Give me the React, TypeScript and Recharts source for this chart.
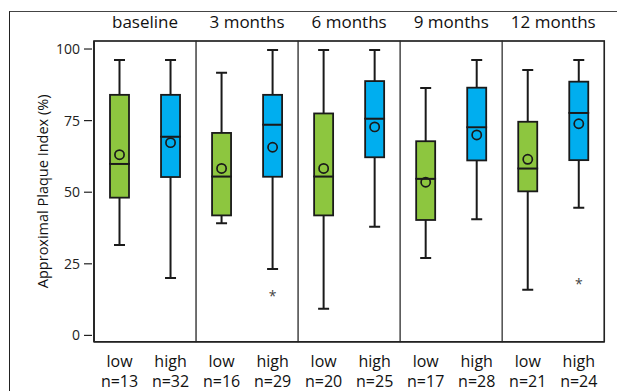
import React from 'react';
import { ComposedChart, Bar, Line, XAxis, YAxis, ReferenceArea } from 'recharts';

const periods = ['baseline', '3 months', '6 months', '9 months', '12 months'];
const groups = ['low', 'high', 'low', 'high', 'low', 'high', 'low', 'high', 'low', 'high'];
const nLabels = ['n=13', 'n=32', 'n=16', 'n=29', 'n=20', 'n=25', 'n=17', 'n=28', 'n=21', 'n=24'];
const whiskerLow = [31.6, 20.0, 39.2, 23.2, 9.3, 37.9, 27.0, 40.6, 15.9, 44.6];
const q1 = [48.1, 55.3, 41.9, 55.4, 41.9, 62.2, 40.3, 61.1, 50.3, 61.2];
const median = [59.9, 69.4, 55.5, 73.6, 55.5, 75.7, 54.7, 72.7, 58.3, 77.7];
const q3 = [84.0, 84.0, 70.7, 84.0, 77.5, 88.8, 67.8, 86.5, 74.6, 88.6];
const whiskerHigh = [96.2, 96.2, 91.7, 99.7, 99.7, 99.7, 86.4, 96.2, 92.7, 96.2];
const means = [63.1, 67.3, 58.3, 65.7, 58.3, 72.8, 53.5, 70.0, 61.5, 73.9];
const outliers: (number | null)[] = [null, null, null, 14.7, null, null, null, null, null, 19.0];
const yTicks = [0, 25, 50, 75, 100];

const GREEN = '#8DC63F';
const BLUE = '#00AEEF';
const FONT = '"Open Sans", sans-serif';
const INK = '#1a1a1a';

const keyFor = (i: number) => `${periods[Math.floor(i / 2)]}-${groups[i]}`;

const data = groups.map((g, i) => ({
  key: keyFor(i),
  group: g,
  n: nLabels[i],
  base: whiskerLow[i],
  lowW: q1[i] - whiskerLow[i],
  lowBox: median[i] - q1[i],
  highBox: q3[i] - median[i],
  highW: whiskerHigh[i] - q3[i],
  mean: means[i],
  outlier: outliers[i],
}));

const fillFor = (g: string) => (g === 'low' ? GREEN : BLUE);

const EmptyShape = () => <g />;

const BoxShape = (p: any) => (
  <rect
    x={p.x}
    y={p.y}
    width={p.width}
    height={p.height}
    fill={fillFor(p.payload.group)}
    stroke={INK}
    strokeWidth={1.8}
  />
);

const LowWhisker = (p: any) => {
  const cx = p.x + p.width / 2;
  const yb = p.y + p.height;
  return (
    <g stroke={INK} strokeWidth={2}>
      <line x1={cx} x2={cx} y1={p.y} y2={yb} />
      <line x1={cx - 5.5} x2={cx + 5.5} y1={yb} y2={yb} />
    </g>
  );
};

const HighWhisker = (p: any) => {
  const cx = p.x + p.width / 2;
  const yb = p.y + p.height;
  return (
    <g stroke={INK} strokeWidth={2}>
      <line x1={cx} x2={cx} y1={p.y} y2={yb} />
      <line x1={cx - 5.5} x2={cx + 5.5} y1={p.y} y2={p.y} />
    </g>
  );
};

const MeanDot = (p: any) => {
  if (p.value == null || p.cy == null) return <g key={`m${p.index}`} />;
  return <circle key={`m${p.index}`} cx={p.cx} cy={p.cy} r={4.6} fill="none" stroke={INK} strokeWidth={1.7} />;
};

const OutlierDot = (p: any) => {
  if (p.value == null || p.cy == null || isNaN(p.cy)) return <g key={`o${p.index}`} />;
  return (
    <text key={`o${p.index}`} x={p.cx} y={p.cy} dy={8} textAnchor="middle" fontFamily={FONT} fontSize={14} fill="#444">
      *
    </text>
  );
};

const YTick = (p: any) => (
  <g>
    <line x1={p.x - 8} x2={p.x} y1={p.y} y2={p.y} stroke="#222" strokeWidth={1.2} />
    <text x={p.x - 12} y={p.y} dy={5} textAnchor="end" fontFamily={FONT} fontSize={14} fill="#222">
      {p.payload.value}
    </text>
  </g>
);

const BottomTick = (p: any) => {
  const row = data[p.index];
  return (
    <g>
      <text x={p.x} y={p.y} dy={25} textAnchor="middle" fontFamily={FONT} fontSize={16} fill="#111">
        {row ? row.group : ''}
      </text>
      <text x={p.x} y={p.y} dy={45} textAnchor="middle" fontFamily={FONT} fontSize={16} fill="#111">
        {row ? row.n : ''}
      </text>
    </g>
  );
};

const makeTitle = (title: string) => (p: any) => {
  const vb = p.viewBox || { x: 0, y: 0, width: 0, height: 0 };
  return (
    <text
      x={vb.x + vb.width / 2}
      y={vb.y - 13}
      textAnchor="middle"
      fontFamily={FONT}
      fontSize={17}
      fill="#111"
    >
      {title}
    </text>
  );
};

const YLabel = (p: any) => {
  const vb = p.viewBox || { x: 0, y: 33, width: 86, height: 300 };
  const cx = vb.x + 35;
  const cy = vb.y + vb.height / 2;
  return (
    <text
      x={cx}
      y={cy}
      transform={`rotate(-90, ${cx}, ${cy})`}
      textAnchor="middle"
      dominantBaseline="central"
      fontFamily={FONT}
      fontSize={14.5}
      fill="#111"
    >
      Approximal Plaque Index (%)
    </text>
  );
};

export default function App() {
  return (
    <div style={{ position: 'relative', width: 617, height: 383 }}>
      <div
        style={{
          position: 'absolute',
          left: 1,
          top: 3,
          width: 616,
          height: 380,
          borderTop: '1.5px solid #444',
          borderLeft: '1.5px solid #222',
          boxSizing: 'border-box',
        }}
      />
      <div style={{ position: 'absolute', left: 0, top: 0 }}>
        <ComposedChart width={617} height={383} data={data} margin={{ top: 33, right: 20.7, bottom: 0, left: 0 }}>
          <XAxis
            xAxisId="cat"
            dataKey="key"
            type="category"
            height={49.3}
            interval={0}
            tickLine={false}
            tickSize={0}
            tickMargin={0}
            axisLine={{ stroke: '#222', strokeWidth: 1.5 }}
            tick={<BottomTick />}
          />
          <YAxis
            type="number"
            width={86}
            domain={[-2.2, 102.8]}
            ticks={yTicks}
            allowDataOverflow
            tickLine={false}
            tickSize={2}
            tickMargin={0}
            axisLine={{ stroke: '#222', strokeWidth: 1.5 }}
            tick={<YTick />}
            label={<YLabel />}
          />
          {periods.map((t, k) => (
            <ReferenceArea
              key={t}
              xAxisId="cat"
              x1={keyFor(2 * k)}
              x2={keyFor(2 * k + 1)}
              fill="none"
              fillOpacity={0}
              stroke="#555"
              strokeWidth={1.2}
              label={makeTitle(t)}
            />
          ))}
          <ReferenceArea
            xAxisId="cat"
            x1={keyFor(0)}
            x2={keyFor(groups.length - 1)}
            fill="none"
            fillOpacity={0}
            stroke="#222"
            strokeWidth={1.5}
          />
          <Bar xAxisId="cat" dataKey="base" stackId="box" barSize={19} shape={<EmptyShape />} isAnimationActive={false} />
          <Bar xAxisId="cat" dataKey="lowW" stackId="box" barSize={19} shape={<LowWhisker />} isAnimationActive={false} />
          <Bar xAxisId="cat" dataKey="lowBox" stackId="box" barSize={19} shape={<BoxShape />} isAnimationActive={false} />
          <Bar xAxisId="cat" dataKey="highBox" stackId="box" barSize={19} shape={<BoxShape />} isAnimationActive={false} />
          <Bar xAxisId="cat" dataKey="highW" stackId="box" barSize={19} shape={<HighWhisker />} isAnimationActive={false} />
          <Line
            xAxisId="cat"
            dataKey="mean"
            stroke="none"
            dot={MeanDot}
            activeDot={false}
            isAnimationActive={false}
          />
          <Line
            xAxisId="cat"
            dataKey="outlier"
            stroke="none"
            dot={OutlierDot}
            activeDot={false}
            connectNulls={false}
            isAnimationActive={false}
          />
        </ComposedChart>
      </div>
    </div>
  );
}
